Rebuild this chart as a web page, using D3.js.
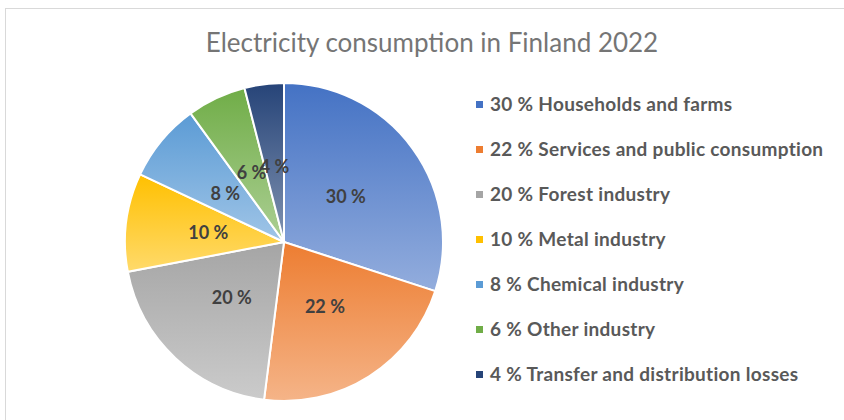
<!DOCTYPE html>
<html>
<head>
<meta charset="utf-8">
<script src="https://cdn.jsdelivr.net/npm/d3@7"></script>
<style>
  body { margin: 0; background: #fff; }
  svg { display: block; font-family: Lato, "Open Sans", sans-serif; }
</style>
</head>
<body>
<script>
const categories = ['Households and farms', 'Services and public consumption', 'Forest industry',
  'Metal industry', 'Chemical industry', 'Other industry', 'Transfer and distribution losses'];
const values = [30, 22, 20, 10, 8, 6, 4];
const colors = ['#4472C4', '#ED7D31', '#A5A5A5', '#FFC000', '#5B9BD5', '#70AD47', '#264478'];
const title = 'Electricity consumption in Finland 2022';

const width = 844;
const height = 420;
const cx = 284, cy = 242, radius = 159;

const data = categories.map((c, i) => ({ name: c, value: values[i], color: colors[i] }));

const svg = d3.select('body').append('svg')
  .attr('width', width)
  .attr('height', height);

// chart frame (runs off the right and bottom edges)
svg.append('rect')
  .attr('x', 5.5).attr('y', 8.5)
  .attr('width', 900).attr('height', 500)
  .attr('fill', '#fff')
  .attr('stroke', '#d9d9d9');

svg.append('text')
  .attr('x', 432).attr('y', 52)
  .attr('text-anchor', 'middle')
  .style('font-size', '26px')
  .style('fill', '#757575')
  .text(title);

const defs = svg.append('defs');
data.forEach((d, i) => {
  const g = defs.append('linearGradient')
    .attr('id', 'grad' + i)
    .attr('x1', 0).attr('y1', 0).attr('x2', 0).attr('y2', 1);
  g.append('stop').attr('offset', '0%').attr('stop-color', d.color);
  g.append('stop').attr('offset', '100%').attr('stop-color', d3.interpolateRgb(d.color, '#fff')(0.42));
});

const pie = d3.pie().value(d => d.value).sort(null);
const arc = d3.arc().innerRadius(0).outerRadius(radius);
const labelArc = d3.arc().innerRadius(radius * 0.48).outerRadius(radius * 0.48);

const g = svg.append('g').attr('transform', `translate(${cx}, ${cy})`);

g.selectAll('.slice').data(pie(data))
  .enter()
  .append('path')
  .attr('class', 'slice')
  .attr('d', arc)
  .attr('fill', (d, i) => `url(#grad${i})`)
  .attr('stroke', '#fff')
  .attr('stroke-width', 2);

g.selectAll('.label').data(pie(data))
  .enter()
  .append('text')
  .attr('class', 'label')
  .attr('transform', d => `translate(${labelArc.centroid(d)})`)
  .attr('text-anchor', 'middle')
  .attr('dy', '0.35em')
  .style('font-size', '18px')
  .style('font-weight', 'bold')
  .style('fill', '#404040')
  .text(d => `${d.data.value} %`);

const legend = svg.append('g').attr('transform', 'translate(476, 104)');
const rowH = 45;

const item = legend.selectAll('.item').data(data)
  .enter()
  .append('g')
  .attr('class', 'item')
  .attr('transform', (d, i) => `translate(0, ${i * rowH})`);

item.append('rect')
  .attr('x', 0).attr('y', -3)
  .attr('width', 7).attr('height', 7)
  .attr('fill', d => d.color);

item.append('text')
  .attr('x', 14)
  .attr('dy', '0.36em')
  .style('font-size', '19px')
  .style('letter-spacing', '0.3px')
  .style('font-weight', 'bold')
  .style('fill', '#595959')
  .text(d => `${d.value} % ${d.name}`);
</script>
</body>
</html>
